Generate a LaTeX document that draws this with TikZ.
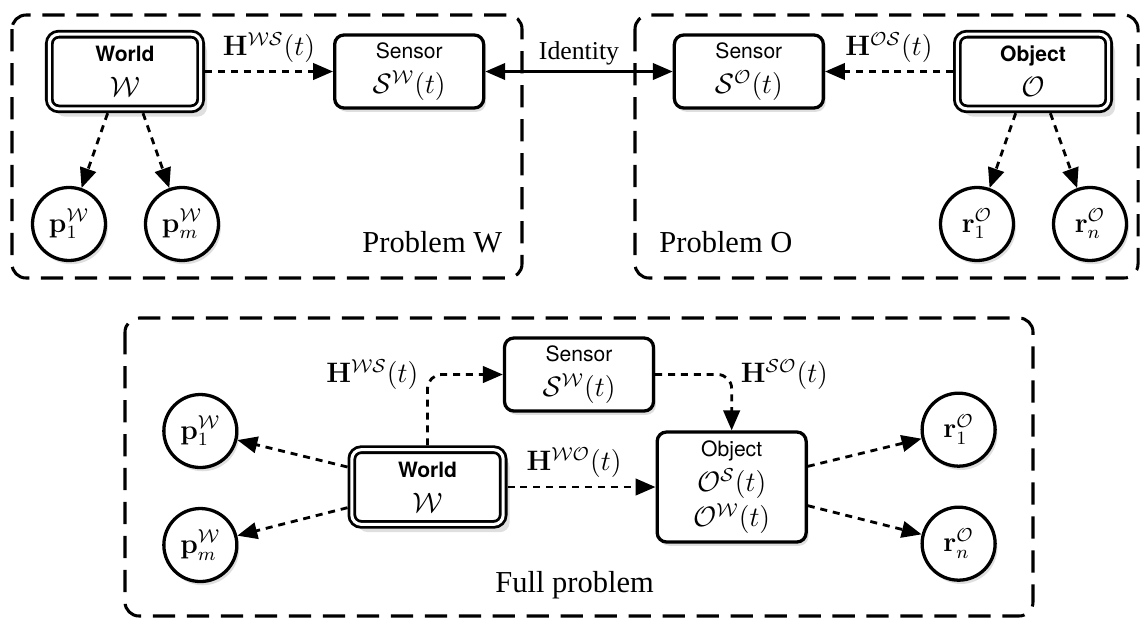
\documentclass[tikz,border=0pt]{standalone}
\usepackage[no-math]{fontspec}
\setmainfont{Liberation Serif}
\setsansfont{TeX Gyre Heros}
\usetikzlibrary{arrows.meta,positioning,shadows}

\newcommand{\boxname}[1]{{\sffamily\fontsize{9}{15}\selectfont #1}}

\begin{document}
\begin{tikzpicture}[x=0.015cm, y=-0.015cm,
box/.style={rectangle, draw, fill=white, line width=1.4pt, rounded corners=4pt, minimum width=2.235cm, minimum height=1.095cm, align=center, inner sep=2pt, font=\fontsize{11.5}{15}\selectfont, drop shadow={shadow xshift=1pt, shadow yshift=-1.6pt, opacity=0.25}},
dbox/.style={rectangle, draw, fill=white, double, line width=1.2pt, double distance=1.3pt, outer sep=1.85pt, rounded corners=4pt, minimum width=2.27cm, minimum height=1.12cm, align=center, inner sep=2pt, font=\fontsize{11.5}{15}\selectfont, drop shadow={shadow xshift=2.7pt, shadow yshift=-3.3pt, opacity=0.25}},
var/.style={circle, draw, fill=white, line width=1.4pt, minimum size=1.095cm, inner sep=0pt, font=\fontsize{12}{14}\selectfont, drop shadow={shadow xshift=1pt, shadow yshift=-1.6pt, opacity=0.25}},
frame/.style={line width=1.3pt, rounded corners=6pt, dash pattern=on 9.5pt off 5pt},
link/.style={-{Triangle[length=8.5pt,width=7pt]}, line width=1.2pt, dash pattern=on 3pt off 2.5pt},
ident/.style={{Triangle[length=8.5pt,width=7pt]}-{Triangle[length=8.5pt,width=7pt]}, line width=1.2pt},
lbl/.style={font=\fontsize{11.5}{13}\selectfont},
note/.style={font=\fontsize{11}{13}\selectfont},
title/.style={font=\fontsize{13}{15}\selectfont, inner sep=0pt, anchor=base west}]

\useasboundingbox (0,0) rectangle (1142,619);

% dashed frames
\draw[frame] (12,15) rectangle (522,278);
\draw[frame] (635,15) rectangle (1138,278);
\draw[frame] (125,318) rectangle (1033,616);

% problem W
\node[dbox] (wW) at (125,71.5) {\boxname{\bfseries World}\\$\mathcal{W}$};

\node[box, right=1.92cm of wW] (sW) {\boxname{Sensor}\\$\mathcal{S}^{\mathcal{W}}(t)$};

\node[var, below=1.09cm of wW, xshift=-0.84cm] (p1W) {$\mathbf{p}_1^{\mathcal{W}}$};

\node[var, below=1.09cm of wW, xshift=0.855cm] (pmW) {$\mathbf{p}_m^{\mathcal{W}}$};

\node[title] (tW) at (362,252) {Problem W};

% problem O
\node[dbox] (oO) at (1033,71.5) {\boxname{\bfseries Object}\\$\mathcal{O}$};

\node[box, left=1.92cm of oO] (sO) {\boxname{Sensor}\\$\mathcal{S}^{\mathcal{O}}(t)$};

\node[var, below=1.09cm of oO, xshift=-0.84cm] (r1O) {$\mathbf{r}_1^{\mathcal{O}}$};

\node[var, below=1.09cm of oO, xshift=0.855cm] (rnO) {$\mathbf{r}_n^{\mathcal{O}}$};

\node[title] (tO) at (659,252) {Problem O};

% full problem
\node[dbox] (wF) at (427.5,487) {\boxname{\bfseries World}\\$\mathcal{W}$};

\node[box, minimum height=1.65cm, right=2.22cm of wF] (oF) {\boxname{Object}\\$\mathcal{O}^{\mathcal{S}}(t)$\\$\mathcal{O}^{\mathcal{W}}(t)$};

\node[box] (sF) at (579,374.5) {\boxname{Sensor}\\$\mathcal{S}^{\mathcal{W}}(t)$};

\node[var, left=1.635cm of wF, yshift=0.84cm] (p1F) {$\mathbf{p}_1^{\mathcal{W}}$};

\node[var, left=1.635cm of wF, yshift=-0.87cm] (pmF) {$\mathbf{p}_m^{\mathcal{W}}$};

\node[var, right=1.69cm of oF, yshift=0.86cm] (r1F) {$\mathbf{r}_1^{\mathcal{O}}$};

\node[var, right=1.69cm of oF, yshift=-0.85cm] (rnF) {$\mathbf{r}_n^{\mathcal{O}}$};

\node[title] (tF) at (495,592) {Full problem};

% connectors
\draw[link] (wW.east) -- (sW.west) node[lbl, midway, above] (hWS) {$\mathbf{H}^{\mathcal{W}\mathcal{S}}(t)$};

\draw[link] (oO.west) -- (sO.east) node[lbl, midway, above] (hOS) {$\mathbf{H}^{\mathcal{O}\mathcal{S}}(t)$};

\draw[ident] (sW.east) -- (sO.west) node[note, midway, above=-1pt] (id) {Identity};

\draw[link] ([xshift=-0.26cm]wW.south) -- (p1W);

\draw[link] ([xshift=0.27cm]wW.south) -- (pmW);

\draw[link] ([xshift=-0.26cm]oO.south) -- (r1O);

\draw[link] ([xshift=0.26cm]oO.south) -- (rnO);

\draw[link] ([yshift=0.3cm]wF.west) -- (p1F);

\draw[link] ([yshift=-0.31cm]wF.west) -- (pmF);

\draw[link] ([yshift=0.31cm]oF.east) -- (r1F);

\draw[link] ([yshift=-0.28cm]oF.east) -- (rnF);

\draw[link] (wF.east) -- (wF.east -| oF.west) node[lbl, pos=0.45, above] (hWO) {$\mathbf{H}^{\mathcal{W}\mathcal{O}}(t)$};

\draw[link, rounded corners=6pt] (wF.north) |- (sF.west) node[lbl, pos=0.5, left] (hWSf) {$\mathbf{H}^{\mathcal{W}\mathcal{S}}(t)$};

\draw[link, rounded corners=6pt] (sF.east) -| (oF.north) node[lbl, pos=0.5, right] (hSO) {$\mathbf{H}^{\mathcal{S}\mathcal{O}}(t)$};

\end{tikzpicture}
\end{document}
